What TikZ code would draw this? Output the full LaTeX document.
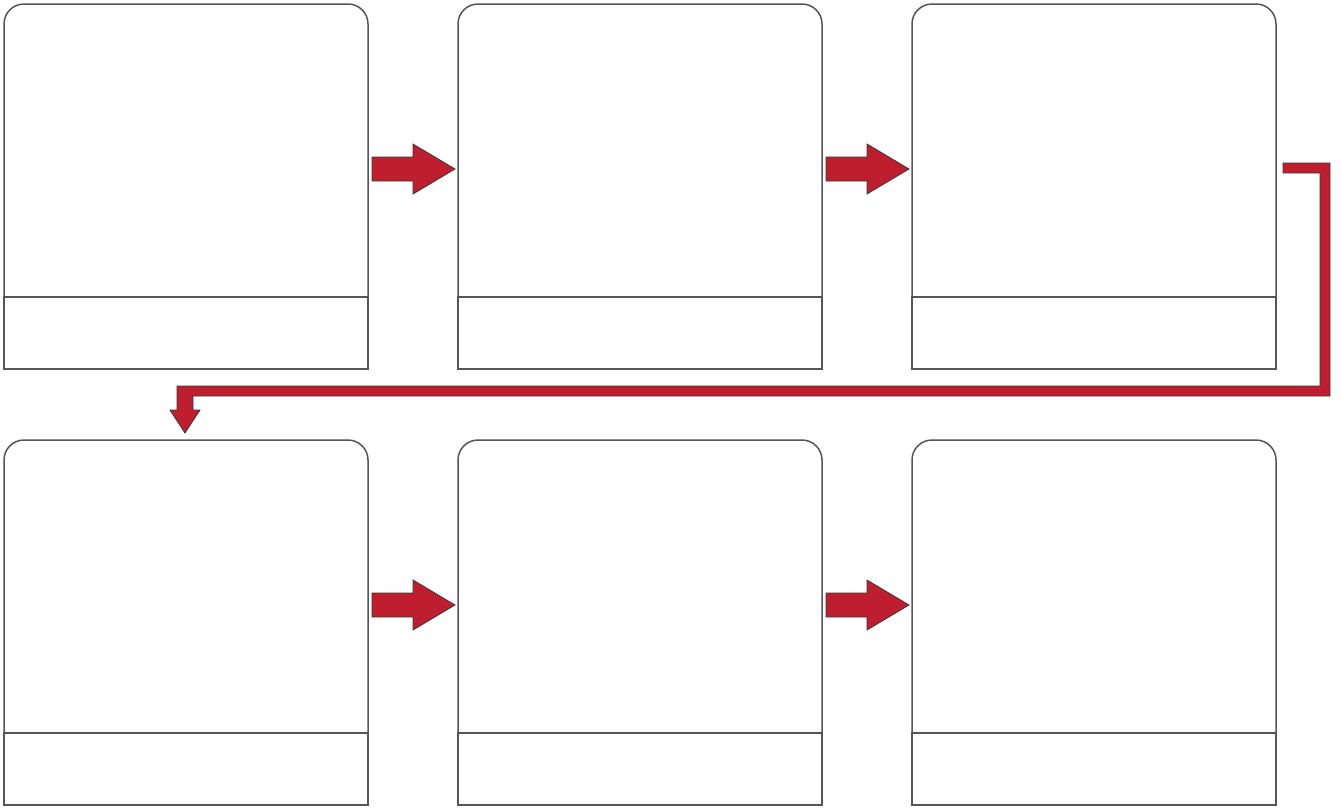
\documentclass[tikz,border=0pt]{standalone}
\usetikzlibrary{calc}
\definecolor{boxline}{HTML}{555555}
\definecolor{arrred}{HTML}{BE1E2D}
\definecolor{arrline}{HTML}{3A3A3A}
\begin{document}
\begin{tikzpicture}[x=1pt,y=-1pt,
  panel/.style={draw=none,minimum width=364pt,minimum height=365pt,inner sep=0pt,outer sep=0pt},
  outline/.style={draw=boxline,line width=1.5pt},
  arrowfill/.style={fill=arrred,draw=arrline,line width=0.8pt,line join=miter},
  rarrow/.pic={\filldraw[arrowfill] (0,-12) -- (41,-12) -- (41,-25) -- (83,0) -- (41,25) -- (41,12) -- (0,12) -- cycle;}]
\useasboundingbox (0,0) rectangle (1342,809);
% panels (named)
\node[panel] (b1) at (186,186.5) {};
\node[panel] (b2) at (640,186.5) {};
\node[panel] (b3) at (1094,186.5) {};
\node[panel] (b4) at (186,622.5) {};
\node[panel] (b5) at (640,622.5) {};
\node[panel] (b6) at (1094,622.5) {};
\foreach \b in {b1,b2,b3,b4,b5,b6}{
  \draw[outline,rounded corners=20pt] ($(\b.south west)+(0,-72)$) -- (\b.north west) -- (\b.north east) -- ($(\b.south east)+(0,-72)$);
  \draw[outline] ($(\b.south west)+(0,-72)$) rectangle (\b.south east);
}
% horizontal block arrows
\path ($(b1.east)+(4,-17.5)$) pic {rarrow};
\path ($(b2.east)+(4,-17.5)$) pic {rarrow};
\path ($(b4.east)+(4,-17.5)$) pic {rarrow};
\path ($(b5.east)+(4,-17.5)$) pic {rarrow};
% return connector from b3 to b4
\coordinate (rs) at ($(b3.east)+(7,-23.5)$);
\coordinate (rt) at ($(b4.north)+(-1,-7)$);
\filldraw[arrowfill] (rs) -- ++(47,0) |- ($(rt)+(8,-37)$) -- ++(0,14) -- ++(7,0) -- (rt) -- ++(-15,-23) -- ++(7,0) -- ++(0,-24) -- ++(1143,0) |- ($(rs)+(0,10)$) -- cycle;
\end{tikzpicture}
\end{document}
